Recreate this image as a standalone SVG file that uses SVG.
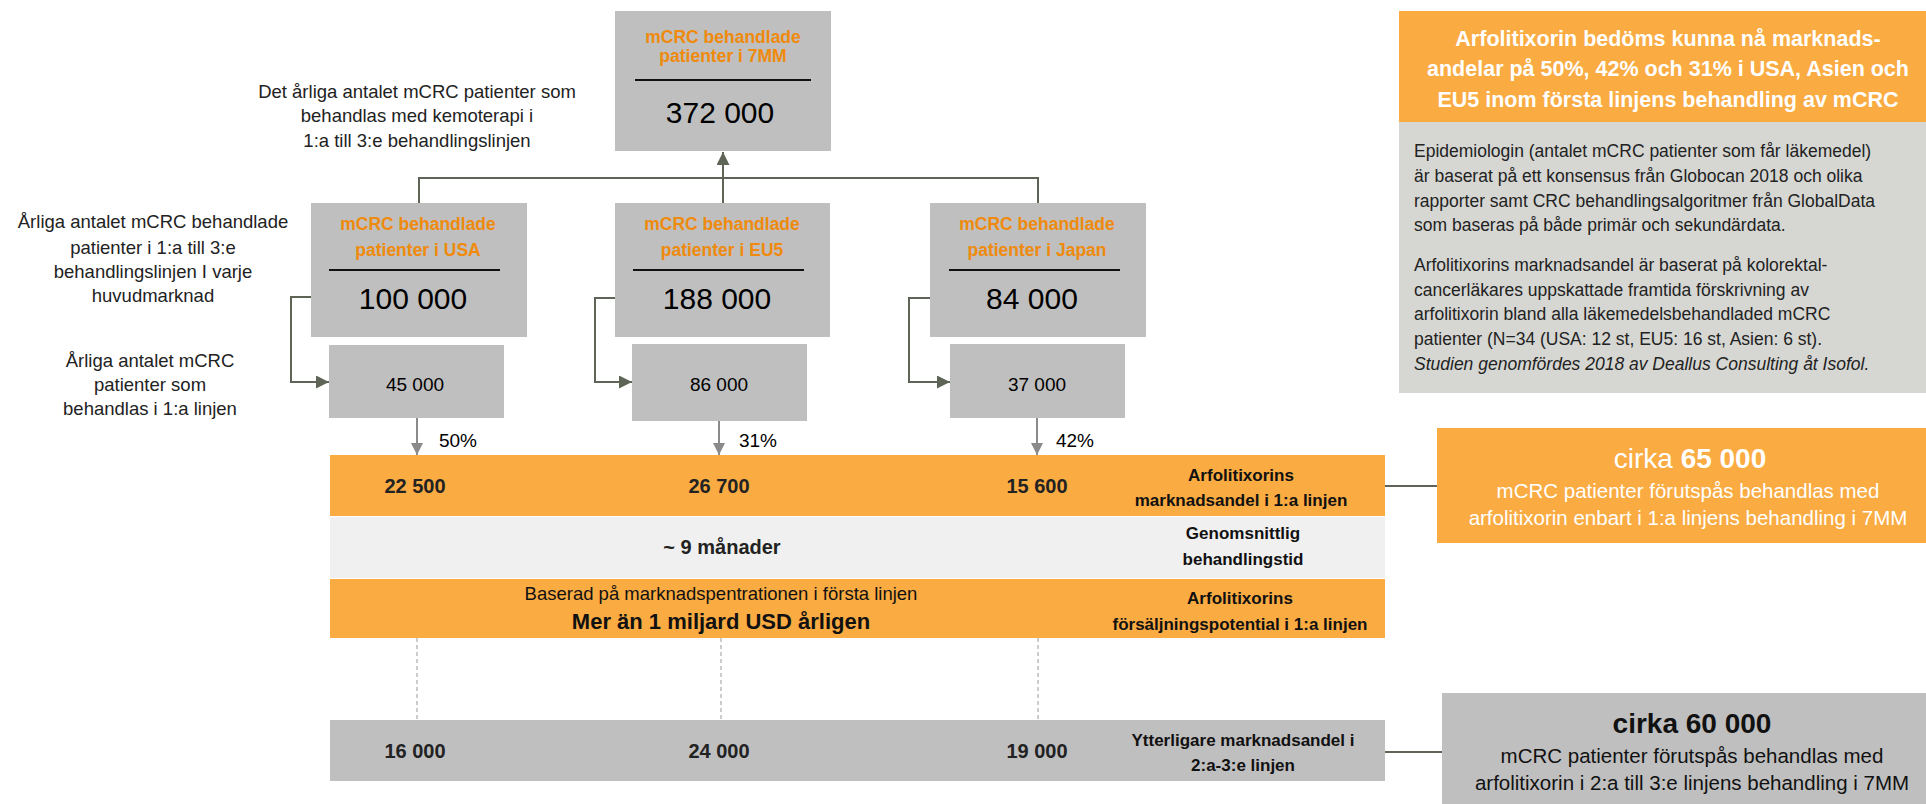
<svg xmlns="http://www.w3.org/2000/svg" width="1926" height="804" viewBox="0 0 1926 804">
<defs>
<style>
text{font-family:"Liberation Sans",Arial,sans-serif;}
.box{fill:#bfbfbf;}
.orange{fill:#faab42;}
.ttl{fill:#ef8a0c;font-weight:bold;font-size:17.5px;text-anchor:middle;}
.big{fill:#000;font-size:30px;text-anchor:middle;}
.mid{fill:#000;font-size:19px;text-anchor:middle;}
.lbl{fill:#222;font-size:18.5px;text-anchor:middle;}
.bn{fill:#222;font-weight:bold;font-size:20px;text-anchor:middle;}
.rl{fill:#111;font-weight:bold;font-size:17px;text-anchor:middle;}
.sep{stroke:#111;stroke-width:2;}
.dk{stroke:#5e6556;stroke-width:2;fill:none;}
.gr{stroke:#8a8a8a;stroke-width:2;fill:none;}
.dash{stroke:#9a9a9a;stroke-width:1;stroke-dasharray:4,3;fill:none;}
.body{fill:#222;font-size:17.5px;}
.res{font-size:20.5px;text-anchor:middle;}
</style>
<marker id="ahDark" markerUnits="userSpaceOnUse" markerWidth="14" markerHeight="13" refX="13" refY="6.5" orient="auto"><path d="M0,0 L13,6.5 L0,13 z" fill="#5e6556"/></marker>
<marker id="ahGrey" markerUnits="userSpaceOnUse" markerWidth="13" markerHeight="12" refX="12" refY="6" orient="auto"><path d="M0,0 L12,6 L0,12 z" fill="#8a8a8a"/></marker>
</defs>
<rect width="1926" height="804" fill="#fff"/>

<g id="connectors">
<polyline class="dk" points="419,203 419,178 1038,178 1038,203"/>
<line class="dk" x1="723" y1="203" x2="723" y2="152" marker-end="url(#ahDark)"/>
<polyline class="dk" points="329,297 291,297 291,382 329,382" marker-end="url(#ahDark)"/>
<polyline class="dk" points="635,298 595,298 595,382 632,382" marker-end="url(#ahDark)"/>
<polyline class="dk" points="948,298 909,298 909,382 950,382" marker-end="url(#ahDark)"/>
<line class="gr" x1="417" y1="409" x2="417" y2="455" marker-end="url(#ahGrey)"/>
<line class="gr" x1="719" y1="409" x2="719" y2="455" marker-end="url(#ahGrey)"/>
<line class="gr" x1="1037" y1="409" x2="1037" y2="455" marker-end="url(#ahGrey)"/>
<line class="dash" x1="417" y1="638" x2="417" y2="725"/>
<line class="dash" x1="721" y1="638" x2="721" y2="725"/>
<line class="dash" x1="1038" y1="638" x2="1038" y2="725"/>
<line class="dk" x1="1385" y1="486" x2="1437" y2="486"/>
<line class="dk" x1="1385" y1="752" x2="1442" y2="752"/>
</g>

<g id="label-7mm">
<text class="lbl" x="417" y="98">Det årliga antalet mCRC patienter som</text>
<text class="lbl" x="417" y="122">behandlas med kemoterapi i</text>
<text class="lbl" x="417" y="147">1:a till 3:e behandlingslinjen</text>
</g>
<g id="label-markets">
<text class="lbl" x="153" y="228">Årliga antalet mCRC behandlade</text>
<text class="lbl" x="153" y="254">patienter i 1:a till 3:e</text>
<text class="lbl" x="153" y="278">behandlingslinjen I varje</text>
<text class="lbl" x="153" y="302">huvudmarknad</text>
</g>
<g id="label-first">
<text class="lbl" x="150" y="367">Årliga antalet mCRC</text>
<text class="lbl" x="150" y="391">patienter som</text>
<text class="lbl" x="150" y="415">behandlas i 1:a linjen</text>
</g>

<g id="node-7mm">
<rect class="box" x="615" y="11" width="216" height="140"/>
<text class="ttl" x="723" y="43">mCRC behandlade</text>
<text class="ttl" x="723" y="62">patienter i 7MM</text>
<line class="sep" x1="635" y1="80" x2="811" y2="80"/>
<text class="big" x="720" y="123">372 000</text>
</g>

<g id="node-usa">
<rect class="box" x="311" y="203" width="216" height="134"/>
<text class="ttl" x="418" y="230">mCRC behandlade</text>
<text class="ttl" x="418" y="256">patienter i USA</text>
<line class="sep" x1="329" y1="270" x2="500" y2="270"/>
<text class="big" x="413" y="309">100 000</text>
</g>
<g id="node-eu5">
<rect class="box" x="615" y="203" width="215" height="134"/>
<text class="ttl" x="722" y="230">mCRC behandlade</text>
<text class="ttl" x="722" y="256">patienter i EU5</text>
<line class="sep" x1="633" y1="270" x2="804" y2="270"/>
<text class="big" x="717" y="309">188 000</text>
</g>
<g id="node-japan">
<rect class="box" x="930" y="203" width="216" height="134"/>
<text class="ttl" x="1037" y="230">mCRC behandlade</text>
<text class="ttl" x="1037" y="256">patienter i Japan</text>
<line class="sep" x1="949" y1="270" x2="1120" y2="270"/>
<text class="big" x="1032" y="309">84 000</text>
</g>

<g id="node-usa-1l">
<rect class="box" x="329" y="345" width="175" height="73"/>
<text class="mid" x="415" y="391">45 000</text>
</g>
<g id="node-eu5-1l">
<rect class="box" x="632" y="344" width="175" height="77"/>
<text class="mid" x="719" y="391">86 000</text>
</g>
<g id="node-japan-1l">
<rect class="box" x="950" y="344" width="175" height="74"/>
<text class="mid" x="1037" y="391">37 000</text>
</g>

<g id="pct">
<text class="mid" x="458" y="447">50%</text>
<text class="mid" x="758" y="447">31%</text>
<text class="mid" x="1075" y="447">42%</text>
</g>

<g id="band-share">
<rect class="orange" x="330" y="455" width="1055" height="61"/>
<text class="bn" x="415" y="493">22 500</text>
<text class="bn" x="719" y="493">26 700</text>
<text class="bn" x="1037" y="493">15 600</text>
<text class="rl" x="1241" y="481">Arfolitixorins</text>
<text class="rl" x="1241" y="506">marknadsandel  i 1:a linjen</text>
</g>
<g id="band-time">
<rect x="330" y="517" width="1055" height="61" fill="#f0f0f0"/>
<text class="bn" x="722" y="554" font-size="20.5">~ 9 månader</text>
<text class="rl" x="1243" y="539">Genomsnittlig</text>
<text class="rl" x="1243" y="565">behandlingstid</text>
</g>
<g id="band-sales">
<rect class="orange" x="330" y="579" width="1055" height="59"/>
<text x="721" y="600" fill="#111" font-size="18.5" text-anchor="middle">Baserad på marknadspentrationen i första linjen</text>
<text x="721" y="629" fill="#111" font-size="22" font-weight="bold" text-anchor="middle">Mer än 1 miljard USD årligen</text>
<text class="rl" x="1240" y="604">Arfolitixorins</text>
<text class="rl" x="1240" y="630">försäljningspotential  i 1:a linjen</text>
</g>
<g id="band-later">
<rect class="box" x="330" y="720" width="1055" height="61"/>
<text class="bn" x="415" y="758">16 000</text>
<text class="bn" x="719" y="758">24 000</text>
<text class="bn" x="1037" y="758">19 000</text>
<text class="rl" x="1243" y="746">Ytterligare marknadsandel  i</text>
<text class="rl" x="1243" y="771">2:a-3:e linjen</text>
</g>

<g id="info">
<rect class="orange" x="1399" y="11" width="527" height="111"/>
<g fill="#fff" font-size="21.5" font-weight="bold" text-anchor="middle">
<text x="1668" y="46">Arfolitixorin bedöms kunna nå marknads-</text>
<text x="1668" y="76">andelar på 50%, 42% och 31% i USA, Asien och</text>
<text x="1668" y="107">EU5 inom första linjens behandling av mCRC</text>
</g>
<rect x="1399" y="122" width="527" height="271" fill="#d6d7d3"/>
<text class="body" x="1414" y="157">Epidemiologin (antalet mCRC patienter som får läkemedel)</text>
<text class="body" x="1414" y="182">är baserat på ett konsensus från Globocan 2018 och olika</text>
<text class="body" x="1414" y="207">rapporter samt CRC behandlingsalgoritmer från GlobalData</text>
<text class="body" x="1414" y="231">som baseras på både primär och sekundärdata.</text>
<text class="body" x="1414" y="271">Arfolitixorins marknadsandel är baserat på kolorektal-</text>
<text class="body" x="1414" y="296">cancerläkares uppskattade framtida förskrivning av</text>
<text class="body" x="1414" y="320">arfolitixorin bland alla läkemedelsbehandladed mCRC</text>
<text class="body" x="1414" y="345">patienter (N=34 (USA: 12 st, EU5: 16 st, Asien: 6 st).</text>
<text class="body" x="1414" y="370" font-style="italic">Studien genomfördes 2018 av Deallus Consulting åt Isofol.</text>
</g>

<g id="result-first">
<rect class="orange" x="1437" y="428" width="489" height="115"/>
<text x="1690" y="468" fill="#fff" font-size="28" text-anchor="middle">cirka <tspan font-weight="bold">65 000</tspan></text>
<text class="res" x="1688" y="498" fill="#fff">mCRC patienter förutspås behandlas med</text>
<text class="res" x="1688" y="525" fill="#fff">arfolitixorin enbart i 1:a linjens behandling i 7MM</text>
</g>
<g id="result-later">
<rect class="box" x="1442" y="693" width="484" height="111"/>
<text x="1692" y="733" fill="#111" font-size="28" font-weight="bold" text-anchor="middle">cirka 60 000</text>
<text class="res" x="1692" y="763" fill="#111">mCRC patienter förutspås behandlas med</text>
<text class="res" x="1692" y="790" fill="#111">arfolitixorin i 2:a till 3:e linjens behandling i 7MM</text>
</g>
</svg>
